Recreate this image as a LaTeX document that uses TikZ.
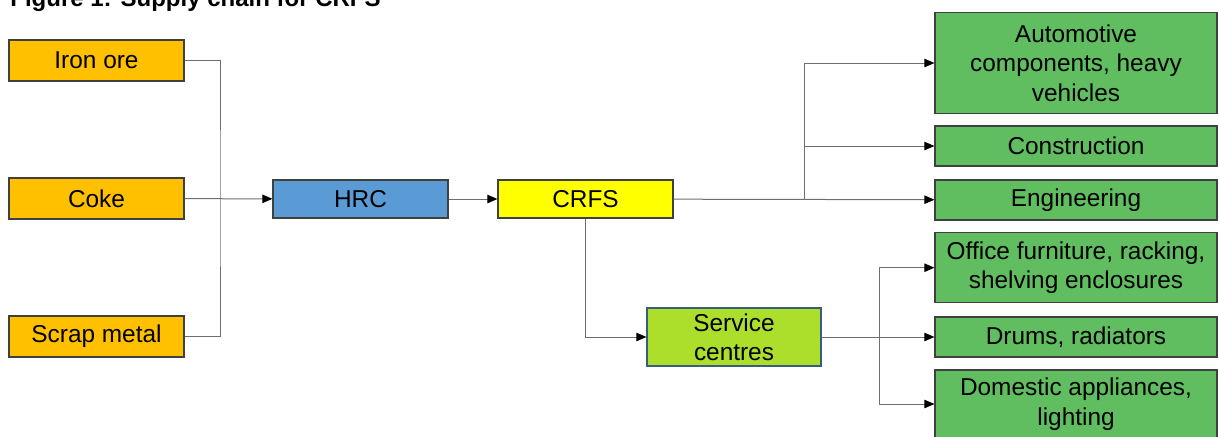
\documentclass[tikz,border=0pt]{standalone}
\usepackage{fontspec}
\setmainfont{Liberation Sans}
\usetikzlibrary{arrows.meta,positioning,calc}
\definecolor{cin}{RGB}{255,192,0}
\definecolor{chrc}{RGB}{91,155,213}
\definecolor{ccrfs}{RGB}{255,255,0}
\definecolor{csc}{RGB}{172,222,44}
\definecolor{cout}{RGB}{96,190,96}
\definecolor{cedge}{RGB}{64,64,64}
\definecolor{cline}{RGB}{110,110,110}

\begin{document}
\begin{tikzpicture}[x=0.5pt, y=-0.5pt,
  font=\fontsize{12.2}{14.7}\selectfont,
  box/.style={draw=cedge, line width=0.6pt, align=center, inner sep=0pt,
              minimum width=87.5pt},
  inp/.style={box, fill=cin, minimum height=20.5pt},
  mid/.style={box, minimum height=19pt},
  outp/.style={box, fill=cout, minimum width=141pt},
  ar/.style={-{Triangle[length=5pt, width=4.2pt, black]}, cline, line width=0.5pt},
  ln/.style={cline, line width=0.5pt}]
  \useasboundingbox (0,0) rectangle (1219,436);
  \node[anchor=base west, inner sep=0pt, font=\fontsize{12}{14}\selectfont\bfseries] (title) at (10,6)
       {Figure 1: Supply chain for CRFS};
  % inputs
  \node[inp] (iron) at (96.5,60.5) {Iron ore};
  \node[inp] (coke) at (96.5,198.5) {Coke};
  \node[inp] (scrap) at (96.5,336.5) {Scrap metal};
  % chain
  \node[mid, fill=chrc] (hrc) at (360.5,199) {HRC};
  \node[mid, fill=ccrfs] (crfs) at (585.5,199) {CRFS};
  \node[box, fill=csc, draw=chrc!60!black, minimum width=87pt, minimum height=29pt]
       (sc) at (734,337) {Service\\centres};
  % end uses
  \node[outp, minimum height=50.3pt] (auto) at (1076,63) {Automotive\\components, heavy\\vehicles};
  \node[outp, minimum height=20pt] (cons) at (1076,146) {Construction};
  \node[outp, minimum height=20pt] (eng) at (1076,200) {Engineering};
  \node[outp, minimum height=35pt] (off) at (1076,267.7) {Office furniture, racking,\\shelving enclosures};
  \node[outp, minimum height=20pt] (drum) at (1076,337) {Drums, radiators};
  \node[outp, minimum height=34pt] (dom) at (1076,404) {Domestic appliances,\\lighting};
  % junctions
  \coordinate (jin) at (220,198.5);
  \coordinate (jout) at (804,199);
  \coordinate (jsc) at (879,337);
  \draw[ln] (iron.east) -| (jin) |- (scrap.east);
  \foreach \i/\j in {coke/hrc, hrc/crfs, crfs/eng, sc/drum} \draw[ar] (\i) -- (\j);
  \draw[ar] (crfs.south) |- (sc.west);
  \foreach \j in {auto, cons} \draw[ar] (jout) |- (\j.west);
  \foreach \j in {off, dom} \draw[ar] (jsc) |- (\j.west);
\end{tikzpicture}
\end{document}
